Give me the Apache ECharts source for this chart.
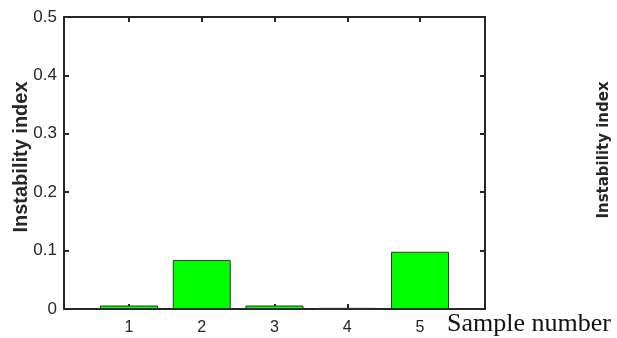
<!DOCTYPE html>
<html>
<head>
<meta charset="utf-8">
<script src="https://cdn.jsdelivr.net/npm/echarts@6/dist/echarts.min.js"></script>
<style>
  html, body { margin: 0; padding: 0; background: #fff; }
  #chart { width: 617px; height: 338px; }
</style>
</head>
<body>
<div id="chart"></div>
<script>
// Sample indices and their instability index values
const samples = [1, 2, 3, 4, 5];
const instability = [0.006, 0.084, 0.006, 0.002, 0.098];
const yTicks = [0, 0.1, 0.2, 0.3, 0.4, 0.5];

const axisColor = '#262626';
const lineW = 2;
const sans = 'Liberation Sans, Arial, Helvetica, sans-serif';

const chart = echarts.init(document.getElementById('chart'), null, { renderer: 'canvas' });

const xBase = {
  type: 'value',
  min: 0.107,
  max: 5.893,
  splitLine: { show: false },
  axisLine: { show: true, onZero: false, lineStyle: { color: axisColor, width: lineW } }
};
const yBase = {
  type: 'value',
  min: yTicks[0],
  max: yTicks[yTicks.length - 1],
  interval: 0.1,
  splitLine: { show: false },
  axisLine: { show: true, onZero: false, lineStyle: { color: axisColor, width: lineW } },
  axisTick: { show: true, inside: true, length: 5, lineStyle: { color: axisColor, width: lineW } }
};

chart.setOption({
  animation: false,
  backgroundColor: '#ffffff',
  grid: { left: 64, right: 132, top: 17, bottom: 29, containLabel: false, outerBoundsMode: 'none' },
  xAxis: [
    Object.assign({}, xBase, {
      position: 'bottom',
      axisTick: { show: true, inside: true, length: 5, customValues: samples, lineStyle: { color: axisColor, width: lineW } },
      axisLabel: { show: true, customValues: samples, margin: 11, fontSize: 16, color: axisColor, fontFamily: sans }
    }),
    Object.assign({}, xBase, {
      position: 'top',
      axisTick: { show: true, inside: true, length: 5, customValues: samples, lineStyle: { color: axisColor, width: lineW } },
      axisLabel: { show: false }
    })
  ],
  yAxis: [
    Object.assign({}, yBase, {
      position: 'left',
      name: 'Instability index',
      nameLocation: 'middle',
      nameGap: 33,
      nameRotate: 90,
      nameMoveOverlap: false,
      nameTextStyle: { fontSize: 20, fontWeight: 'bold', color: axisColor, fontFamily: sans, padding: [0, 0, 0, 12] },
      axisLabel: { show: true, margin: 7, fontSize: 17, color: axisColor, fontFamily: sans }
    }),
    Object.assign({}, yBase, {
      position: 'right',
      axisLabel: { show: false }
    })
  ],
  graphic: [
    {
      type: 'text',
      left: 447,
      top: 311,
      style: { text: 'Sample number', fontSize: 26, fontFamily: 'Liberation Serif, Times New Roman, serif', fill: '#111' }
    },
    {
      type: 'text',
      x: 597,
      y: 150,
      rotation: Math.PI / 2,
      style: {
        text: 'Instability index',
        fontSize: 15,
        fontWeight: 'bold',
        fontFamily: 'DejaVu Sans, sans-serif',
        fill: axisColor,
        align: 'center',
        verticalAlign: 'top'
      }
    }
  ],
  series: [
    {
      type: 'bar',
      xAxisIndex: 0,
      yAxisIndex: 0,
      barWidth: 58,
      data: samples.map((s, i) => [s, instability[i]]),
      itemStyle: { color: '#00ff00', borderColor: '#333333', borderWidth: 1 }
    }
  ]
});
</script>
</body>
</html>
